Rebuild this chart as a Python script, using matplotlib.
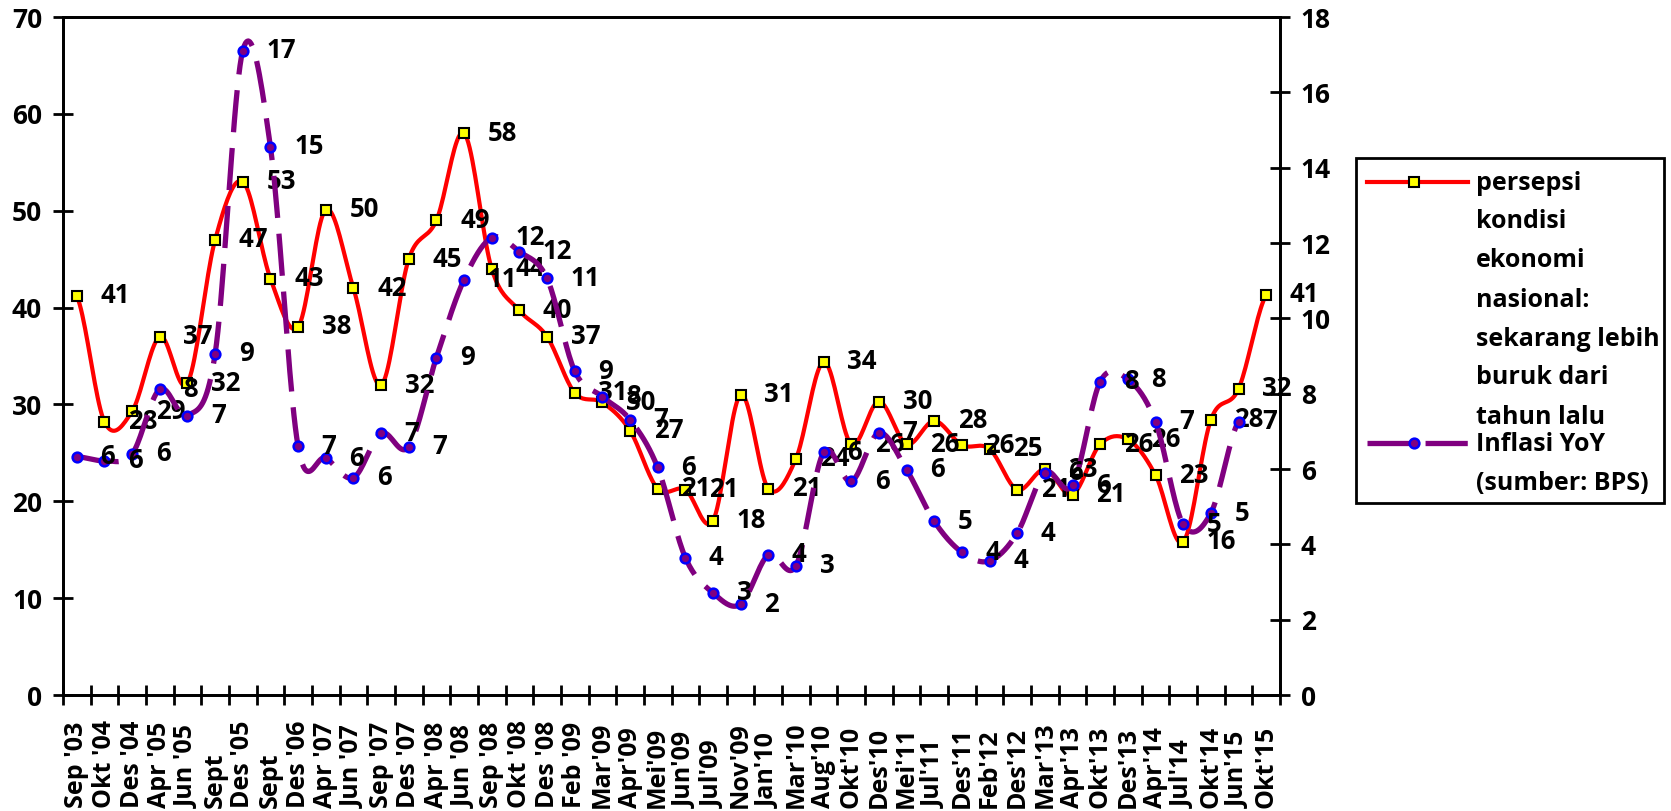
import numpy as np
import matplotlib.pyplot as plt
from matplotlib.lines import Line2D
from matplotlib.patches import Rectangle
from matplotlib.transforms import blended_transform_factory

plt.rcParams['font.family'] = ['Open Sans', 'DejaVu Sans']
plt.rcParams['font.weight'] = 'bold'

periode = ["Sep '03", "Okt '04", "Des '04", "Apr '05", "Jun '05", "Sept", "Des '05",
           "Sept", "Des '06", "Apr '07", "Jun '07", "Sep '07", "Des '07", "Apr '08",
           "Jun '08", "Sep '08", "Okt '08", "Des '08", "Feb '09", "Mar'09", "Apr'09",
           "Mei'09", "Jun'09", "Jul'09", "Nov'09", "Jan'10", "Mar'10", "Aug'10",
           "Okt'10", "Des'10", "Mei'11", "Jul'11", "Des'11", "Feb'12", "Des'12",
           "Mar'13", "Apr'13", "Okt'13", "Des'13", "Apr'14", "Jul'14", "Okt'14",
           "Jun'15", "Okt'15"]

# persepsi kondisi ekonomi nasional: sekarang lebih buruk dari tahun lalu (%)
persepsi = [41.2, 28.2, 29.3, 37.0, 32.2, 47.0, 53.0, 43.0, 38.0, 50.1, 42.0,
            32.0, 45.0, 49.0, 58.0, 44.0, 39.7, 37.0, 31.2, 30.2, 27.3, 21.3,
            21.2, 18.0, 31.0, 21.3, 24.4, 34.4, 25.9, 30.3, 25.9, 28.3, 25.8,
            25.4, 21.2, 23.3, 20.7, 25.9, 26.4, 22.7, 15.8, 28.4, 31.6, 41.3]

# inflasi YoY (%), tidak ada data untuk Okt'15
inflasi = [6.33, 6.22, 6.40, 8.12, 7.42, 9.06, 17.11, 14.55, 6.60, 6.29, 5.77,
           6.95, 6.59, 8.96, 11.03, 12.14, 11.77, 11.06, 8.60, 7.92, 7.31, 6.04,
           3.65, 2.71, 2.41, 3.72, 3.43, 6.44, 5.67, 6.96, 5.98, 4.61, 3.79,
           3.56, 4.30, 5.90, 5.57, 8.32, 8.38, 7.25, 4.53, 4.83, 7.26]

label_persepsi = ["persepsi", "kondisi", "ekonomi", "nasional:",
                  "sekarang lebih", "buruk dari", "tahun lalu"]
label_inflasi = ["Inflasi YoY", "(sumber: BPS)"]


def smooth(y, n=20):
    # catmull-rom, mirip garis "smoothed" di Excel
    y = np.asarray(y, dtype=float)
    xs, ys = [], []
    for i in range(len(y) - 1):
        p0 = y[i - 1] if i > 0 else y[i]
        p1, p2 = y[i], y[i + 1]
        p3 = y[i + 2] if i + 2 < len(y) else y[i + 1]
        t = np.linspace(0, 1, n, endpoint=False)
        ys.append(0.5 * (2 * p1 + (-p0 + p2) * t + (2 * p0 - 5 * p1 + 4 * p2 - p3) * t ** 2
                         + (-p0 + 3 * p1 - 3 * p2 + p3) * t ** 3))
        xs.append(i + t)
    xs.append([len(y) - 1])
    ys.append([y[-1]])
    return np.concatenate(xs), np.concatenate(ys)


W, H = 1671, 811
fig = plt.figure(figsize=(W / 100, H / 100), dpi=100)
ax = fig.add_axes([63 / W, (H - 695) / H, (1280 - 63) / W, (695 - 17) / H])
ax2 = ax.twinx()

x = np.arange(len(periode))

sx, sy = smooth(persepsi)
ax.plot(sx, sy, color='red', lw=3, solid_capstyle='round', zorder=2)
ax.plot(x, persepsi, ls='none', marker='s', ms=6.5, mfc='yellow', mec='black',
        mew=1.5, zorder=3)

xi = np.arange(len(inflasi))
sx2, sy2 = smooth(inflasi)
ax2.plot(sx2, sy2, color='#800080', lw=3.8, dashes=(8, 3), zorder=2)
ax2.plot(xi, inflasi, ls='none', marker='o', ms=7, mfc='#800080', mec='blue',
         mew=1.8, zorder=3)

for i, v in enumerate(persepsi):
    ax.annotate(f"{v:.0f}", (i, v), xytext=(17, 0), textcoords='offset points',
                ha='left', va='center', fontsize=18.5, fontweight='bold', zorder=5)
for i, v in enumerate(inflasi):
    ax2.annotate(f"{v:.0f}", (i, v), xytext=(17, 0), textcoords='offset points',
                 ha='left', va='center', fontsize=18.5, fontweight='bold', zorder=5)

ax.set_xlim(-0.5, len(periode) - 0.5)
ax.set_ylim(0, 70)
ax.set_yticks(range(0, 71, 10))
ax2.set_ylim(0, 18)
ax2.set_yticks(range(0, 19, 2))

ax.set_xticks(np.arange(-0.5, len(periode), 1))
ax.set_xticklabels([])
ax.tick_params(axis='x', direction='inout', length=14, width=2)
ax.tick_params(axis='y', direction='inout', length=14, width=2, labelsize=19, pad=8)
ax2.tick_params(axis='y', direction='inout', length=14, width=2, labelsize=19, pad=8)
for a in (ax, ax2):
    for s in a.spines.values():
        s.set_linewidth(2)

tr = blended_transform_factory(ax.transData, fig.transFigure)
for i, lab in enumerate(periode):
    ax.text(i, 3 / H, lab, transform=tr, rotation=90, ha='center', va='bottom',
            fontsize=18, fontweight='bold')

# legenda
fig.add_artist(Rectangle((1356 / W, 1 - 503 / H), (1664 - 1356) / W, (503 - 158) / H,
                         transform=fig.transFigure, fill=False, lw=2, ec='black'))
hx = np.array([1367, 1468]) / W
fig.add_artist(Line2D(hx, [1 - 182 / H] * 2, color='red', lw=3, transform=fig.transFigure))
fig.add_artist(Line2D([1414 / W], [1 - 182 / H], marker='s', ms=6.5, mfc='yellow',
                      mec='black', mew=1.5, transform=fig.transFigure))
fig.add_artist(Line2D(hx, [1 - 443 / H] * 2, color='#800080', lw=3.8, dashes=(8, 3),
                      transform=fig.transFigure))
fig.add_artist(Line2D([1414 / W], [1 - 443 / H], marker='o', ms=7, mfc='#800080',
                      mec='blue', mew=1.8, transform=fig.transFigure))
for k, line in enumerate(label_persepsi):
    fig.text(1476 / W, 1 - (183 + 39 * k) / H, line, ha='left', va='center',
             fontsize=18, fontweight='bold')
for k, line in enumerate(label_inflasi):
    fig.text(1476 / W, 1 - (445 + 38 * k) / H, line, ha='left', va='center',
             fontsize=18, fontweight='bold')

fig.savefig('out.png', dpi=100)
